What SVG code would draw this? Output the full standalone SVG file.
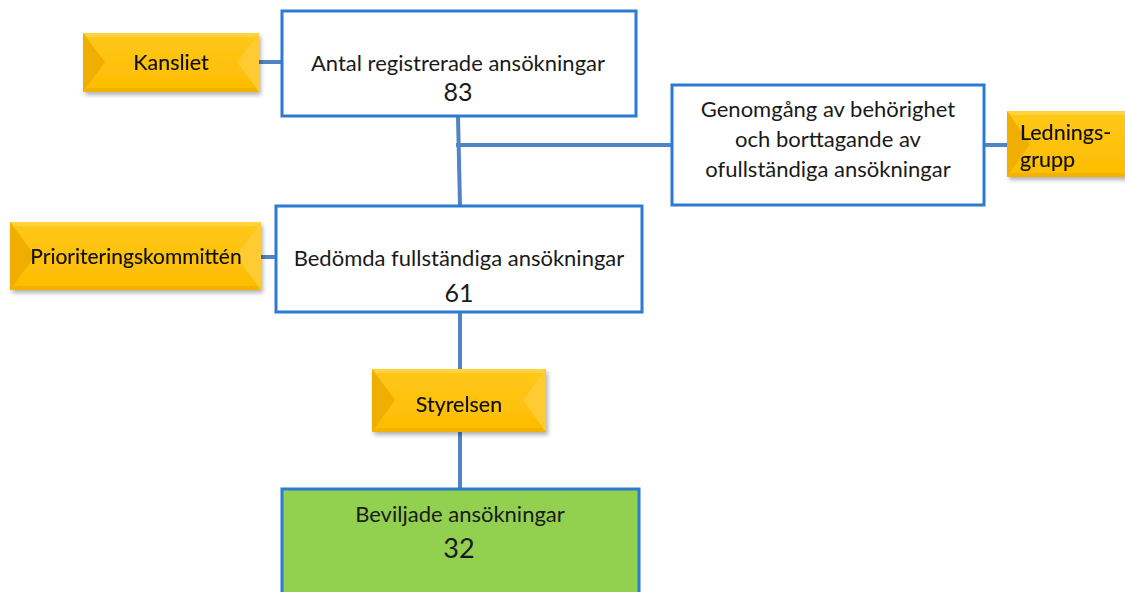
<svg xmlns="http://www.w3.org/2000/svg" width="1125" height="592" viewBox="0 0 1125 592">
<defs>
<linearGradient id="gold" x1="0" y1="0" x2="0" y2="1">
<stop offset="0" stop-color="#FFC81A"/>
<stop offset="1" stop-color="#FDBC00"/>
</linearGradient>
<filter id="sh" x="-10%" y="-20%" width="130%" height="150%">
<feGaussianBlur in="SourceAlpha" stdDeviation="2"/>
<feOffset dx="2" dy="3"/>
<feComponentTransfer><feFuncA type="linear" slope="0.3"/></feComponentTransfer>
<feMerge><feMergeNode/><feMergeNode in="SourceGraphic"/></feMerge>
</filter>
</defs>
<style>
.box{fill:#ffffff;stroke:#2B7BD1;stroke-width:3}
.green{fill:#92D050;stroke:#2B7BD1;stroke-width:3}
.conn{stroke:#5283C4;stroke-width:4;fill:none}
.t{font-family:Lato,"Liberation Sans",sans-serif;fill:#1a1a1a;text-anchor:middle}
.m{font-size:22px}
.n{font-size:25px}
.y{font-family:Lato,"Liberation Sans",sans-serif;fill:#111111;font-size:21.5px;text-anchor:middle;stroke:#111111;stroke-width:0.15}
.base{fill:url(#gold)}
.top{fill:#FFD440}
.bot{fill:#F2B200}
.lft{fill:#F0AE00}
.rgt{fill:#FFCB30}
</style>
<g id="connectors">
<line class="conn" x1="259" y1="62" x2="282" y2="62"/>
<line class="conn" x1="458" y1="116" x2="460" y2="206"/>
<line class="conn" x1="456" y1="145" x2="672" y2="145"/>
<line class="conn" x1="984" y1="145" x2="1008" y2="145"/>
<line class="conn" x1="261" y1="257" x2="276" y2="257"/>
<line class="conn" x1="460" y1="312" x2="460" y2="370"/>
<line class="conn" x1="460" y1="432" x2="460" y2="489"/>
</g>
<g id="n-antal">
<rect class="box" x="282" y="11" width="354" height="105"/>
<text class="t m" x="458" y="71">Antal registrerade ansökningar</text>
<text class="t n" x="458" y="101">83</text>
</g>
<g id="n-genomgang">
<rect class="box" x="672" y="85" width="312" height="120"/>
<text class="t m" x="828" y="117">Genomgång av behörighet</text>
<text class="t m" x="828" y="147">och borttagande av</text>
<text class="t m" x="828" y="177">ofullständiga ansökningar</text>
</g>
<g id="n-bedomda">
<rect class="box" x="276" y="206" width="366" height="106"/>
<text class="t m" x="459" y="266">Bedömda fullständiga ansökningar</text>
<text class="t n" x="459" y="302">61</text>
</g>
<g id="n-beviljade">
<rect class="green" x="282" y="489" width="357" height="110"/>
<text class="t m" x="460" y="522">Beviljade ansökningar</text>
<text class="t" style="font-size:27px" x="459" y="558">32</text>
</g>
<g id="n-kansliet" filter="url(#sh)">
<rect class="base" x="83" y="33" width="176" height="59"/>
<polygon class="top" points="83,33 259,33 255,37 87,37"/>
<polygon class="bot" points="83,92 259,92 255,88 87,88"/>
<polygon class="lft" points="83,33 105,62 83,92"/>
<polygon class="rgt" points="259,33 237,62 259,92"/>
<text class="y" x="171" y="70">Kansliet</text>
</g>
<g id="n-prioritering" filter="url(#sh)">
<rect class="base" x="10" y="222" width="251" height="68"/>
<polygon class="top" points="10,222 261,222 257,226 14,226"/>
<polygon class="bot" points="10,290 261,290 257,286 14,286"/>
<polygon class="lft" points="10,222 35,256 10,290"/>
<polygon class="rgt" points="261,222 236,256 261,290"/>
<text class="y" x="136" y="264" style="font-size:21px">Prioriteringskommittén</text>
</g>
<g id="n-styrelsen" filter="url(#sh)">
<rect class="base" x="372" y="369" width="174" height="63"/>
<polygon class="top" points="372,369 546,369 542,373 376,373"/>
<polygon class="bot" points="372,432 546,432 542,428 376,428"/>
<polygon class="lft" points="372,369 395,400 372,432"/>
<polygon class="rgt" points="546,369 523,400 546,432"/>
<text class="y" x="459" y="412">Styrelsen</text>
</g>
<g id="n-ledningsgrupp" filter="url(#sh)">
<rect class="base" x="1007" y="111" width="125" height="66"/>
<polygon class="top" points="1007,111 1132,111 1132,115 1011,115"/>
<polygon class="bot" points="1007,177 1132,177 1132,173 1011,173"/>
<polygon class="lft" points="1007,111 1030,144 1007,177"/>
<text class="y" x="1020" y="140" style="text-anchor:start">Lednings-</text>
<text class="y" x="1020" y="167" style="text-anchor:start">grupp</text>
</g>
</svg>
